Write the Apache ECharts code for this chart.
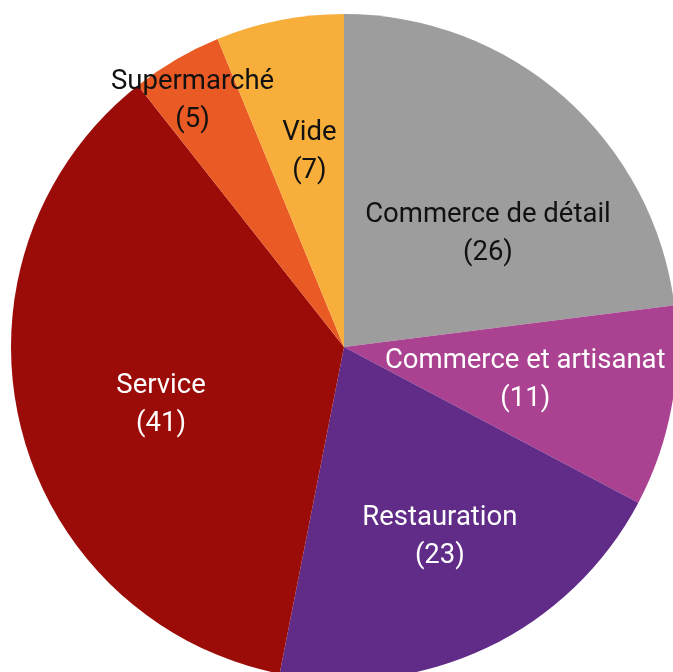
<!DOCTYPE html>
<html>
<head>
<meta charset="utf-8">
<script src="https://cdn.jsdelivr.net/npm/echarts@6/dist/echarts.min.js"></script>
<style>
  html, body { margin: 0; padding: 0; background: #fff; }
  #chart { width: 673px; height: 672px; }
</style>
</head>
<body>
<div id="chart"></div>
<script>
// catégories et effectifs
const categories = ["Commerce de détail", "Commerce et artisanat", "Restauration", "Service", "Supermarché", "Vide"]
const counts = [26, 11, 23, 41, 5, 7]
const colors = ["#9d9d9d", "#aa4291", "#612b88", "#9b0c08", "#e95a24", "#f8ae3b"]
const darkText = ["Commerce de détail", "Supermarché", "Vide"]

const center = [344, 347]
const R = 333

// petits décalages des étiquettes (placement façon Excel)
const labelShift = {
  "Commerce de détail": [12, 37],
  "Commerce et artisanat": [-15, -3],
  "Restauration": [10, 10],
  "Service": [11, 11],
  "Supermarché": [-3, 8],
  "Vide": [4, 1]
}

let myChart = echarts.init(document.getElementById("chart"))

function labelFor(name, show) {
  return {
    show: show,
    position: "inside",
    color: darkText.indexOf(name) >= 0 ? "#111" : "#fff",
    fontFamily: "Roboto",
    fontSize: 27.5,
    lineHeight: 38,
    offset: labelShift[name],
    formatter: "{b}\n({c})"
  }
}

let option = {
  animation: false,
  series: [
    {
      // les secteurs
      type: "pie",
      center: center,
      radius: [0, R],
      startAngle: 90,
      silent: true,
      label: { show: false },
      labelLine: { show: false },
      itemStyle: { borderWidth: 0 },
      data: categories.map((c, i) => ({ name: c, value: counts[i], itemStyle: { color: colors[i] } }))
    },
    {
      // étiquettes intérieures
      type: "pie",
      center: center,
      radius: [60, R],
      startAngle: 90,
      silent: true,
      labelLine: { show: false },
      itemStyle: { color: "transparent" },
      data: categories.map((c, i) => ({ name: c, value: counts[i], label: labelFor(c, c !== "Supermarché") }))
    },
    {
      // étiquette Supermarché, poussée vers le bord
      type: "pie",
      center: center,
      radius: [250, R],
      startAngle: 90,
      silent: true,
      labelLine: { show: false },
      itemStyle: { color: "transparent" },
      data: categories.map((c, i) => ({ name: c, value: counts[i], label: labelFor(c, c === "Supermarché") }))
    }
  ]
}
myChart.setOption(option)
</script>
</body>
</html>
